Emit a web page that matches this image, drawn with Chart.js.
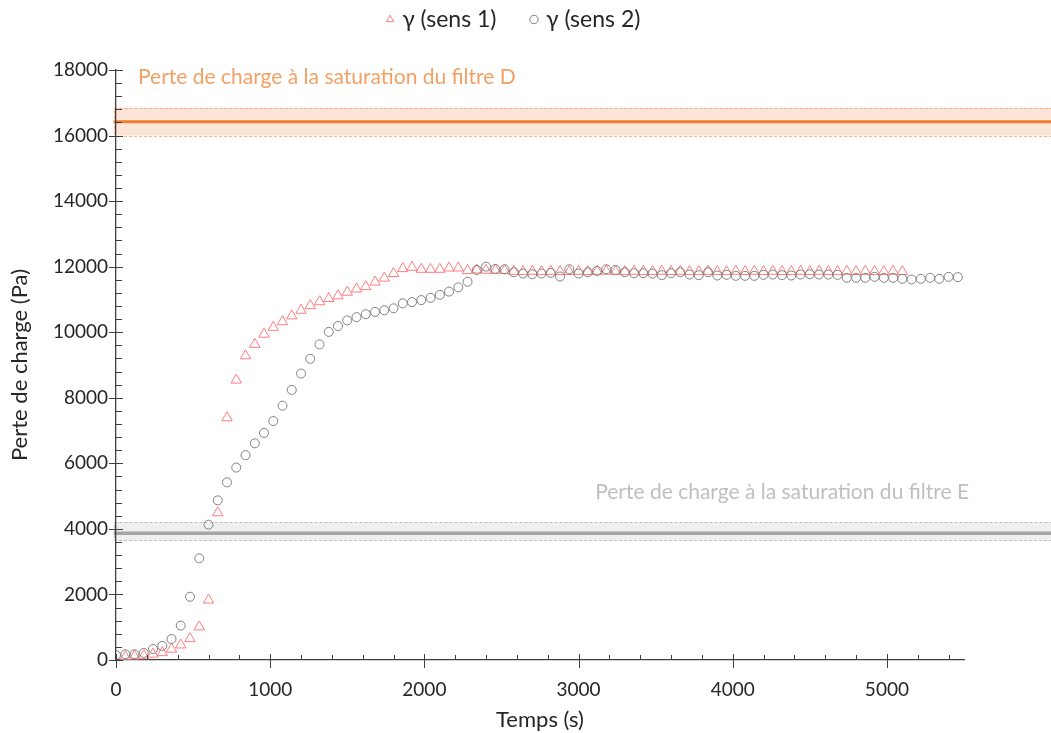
<!DOCTYPE html>
<html>
<head>
<meta charset="utf-8">
<script src="https://cdn.jsdelivr.net/npm/chart.js@4.4.0/dist/chart.umd.min.js"></script>
<style>
  body { margin: 0; background: #fff; }
  #wrap { width: 1051px; height: 733px; }
</style>
</head>
<body>
<div id="wrap"><canvas id="chart" width="1051" height="733"></canvas></div>
<script>
// temps (s) et perte de charge (Pa)
const temps1 = [
  60, 120, 180, 240, 300, 360, 420, 480, 540, 600,
  660, 720, 780, 840, 900, 960, 1020, 1080, 1140, 1200,
  1260, 1320, 1380, 1440, 1500, 1560, 1620, 1680, 1740, 1800,
  1860, 1920, 1980, 2040, 2100, 2160, 2220, 2280, 2340, 2400,
  2460, 2520, 2580, 2640, 2700, 2760, 2820, 2880, 2940, 3000,
  3060, 3120, 3180, 3240, 3300, 3360, 3420, 3480, 3540, 3600,
  3660, 3720, 3780, 3840, 3900, 3960, 4020, 4080, 4140, 4200,
  4260, 4320, 4380, 4440, 4500, 4560, 4620, 4680, 4740, 4800,
  4860, 4920, 4980, 5040, 5100
];
const sens1 = [
  100, 120, 130, 180, 225, 330, 460, 650, 1010, 1830,
  4490, 7390, 8540, 9280, 9630, 9940, 10150, 10320, 10500, 10670,
  10810, 10930, 11030, 11110, 11220, 11320, 11390, 11530, 11650, 11790,
  11940, 11980, 11920, 11920, 11920, 11960, 11960, 11880, 11900, 11890,
  11890, 11880, 11860, 11850, 11860, 11850, 11860, 11850, 11850, 11860,
  11850, 11860, 11860, 11850, 11850, 11860, 11850, 11850, 11860, 11850,
  11860, 11850, 11850, 11860, 11850, 11850, 11860, 11850, 11860, 11850,
  11860, 11850, 11850, 11860, 11850, 11860, 11850, 11850, 11860, 11850,
  11860, 11850, 11850, 11860, 11850
];
const temps2 = [
  0, 60, 120, 180, 240, 300, 360, 420, 480, 540,
  600, 660, 720, 780, 840, 900, 960, 1020, 1080, 1140,
  1200, 1260, 1320, 1380, 1440, 1500, 1560, 1620, 1680, 1740,
  1800, 1860, 1920, 1980, 2040, 2100, 2160, 2220, 2280, 2340,
  2400, 2460, 2520, 2580, 2640, 2700, 2760, 2820, 2880, 2940,
  3000, 3060, 3120, 3180, 3240, 3300, 3360, 3420, 3480, 3540,
  3600, 3660, 3720, 3780, 3840, 3900, 3960, 4020, 4080, 4140,
  4200, 4260, 4320, 4380, 4440, 4500, 4560, 4620, 4680, 4740,
  4800, 4860, 4920, 4980, 5040, 5100, 5160, 5220, 5280, 5340,
  5400, 5460
];
const sens2 = [
  150, 175, 175, 215, 335, 430, 640, 1050, 1930, 3100,
  4130, 4870, 5420, 5870, 6250, 6610, 6930, 7290, 7760, 8240,
  8740, 9190, 9630, 10010, 10190, 10360, 10460, 10550, 10620, 10670,
  10730, 10880, 10920, 10980, 11050, 11140, 11240, 11370, 11540, 11900,
  12000, 11930, 11920, 11830, 11790, 11770, 11790, 11810, 11700, 11920,
  11790, 11830, 11870, 11920, 11900, 11830, 11800, 11800, 11790, 11740,
  11800, 11830, 11760, 11740, 11830, 11730, 11750, 11720, 11720, 11720,
  11750, 11760, 11740, 11730, 11760, 11770, 11760, 11760, 11750, 11660,
  11660, 11660, 11690, 11660, 11660, 11630, 11610, 11630, 11660, 11630,
  11690, 11680
];

const xTickVals = [0, 1000, 2000, 3000, 4000, 5000];
const yTickVals = [0, 2000, 4000, 6000, 8000, 10000, 12000, 14000, 16000, 18000];
const xMax = 5500;
const xMinorStep = 200;
const yMinorStep = 400;

// saturation des filtres : bas / valeur / haut (Pa)
const filtreD = [16000, 16425, 16850];
const filtreE = [3650, 3870, 4200];
const labelD = 'Perte de charge à la saturation du filtre D';
const labelE = 'Perte de charge à la saturation du filtre E';

const FONT = 'Lato, "Open Sans", sans-serif';
const AXIS = '#404040';
const TEXT = '#262626';

const bandPlugin = {
  id: 'bands',
  beforeDraw(chart) {
    const { ctx, scales: { x, y } } = chart;
    const x0 = x.getPixelForValue(-15);
    const x1 = chart.width + 5;
    const band = (vals, fill, edge, line, lw) => {
      const yb = y.getPixelForValue(vals[0]);
      const ym = y.getPixelForValue(vals[1]);
      const yt = y.getPixelForValue(vals[2]);
      ctx.fillStyle = fill;
      ctx.fillRect(x0, yt, x1 - x0, yb - yt);
      ctx.setLineDash([3, 2]);
      ctx.strokeStyle = edge;
      ctx.lineWidth = 1;
      ctx.strokeRect(Math.round(x0) + 0.5, Math.round(yt) + 0.5, x1 - x0, Math.round(yb - yt));
      ctx.setLineDash([]);
      ctx.strokeStyle = line;
      ctx.lineWidth = lw;
      ctx.beginPath();
      ctx.moveTo(x0, ym);
      ctx.lineTo(x1, ym);
      ctx.stroke();
    };
    ctx.save();
    band(filtreD, '#fce4d6', '#f4b183', '#ed7d31', 3);
    band(filtreE, '#efefef', '#bfbfbf', '#a6a6a6', 3.5);

    ctx.font = '21px ' + FONT;
    ctx.textBaseline = 'middle';
    ctx.textAlign = 'left';
    ctx.fillStyle = '#f4a064';
    ctx.fillText(labelD, x.getPixelForValue(143), y.getPixelForValue(17790));
    ctx.fillStyle = '#bfbfbf';
    ctx.fillText(labelE, x.getPixelForValue(3108), y.getPixelForValue(5125));
    ctx.restore();
  }
};

const tickPlugin = {
  id: 'axisTicks',
  afterDraw(chart) {
    const { ctx, chartArea: a, scales: { x, y } } = chart;
    ctx.save();
    ctx.strokeStyle = AXIS;
    ctx.lineWidth = 1;
    ctx.beginPath();
    for (let v = 0; v <= xMax; v += xMinorStep) {
      const px = Math.round(x.getPixelForValue(v)) + 0.5;
      if (v % 1000 === 0) { ctx.moveTo(px, a.bottom - 6); ctx.lineTo(px, a.bottom + 8); }
      else { ctx.moveTo(px, a.bottom - 5); ctx.lineTo(px, a.bottom); }
    }
    for (let v = 0; v <= 18000; v += yMinorStep) {
      const py = Math.round(y.getPixelForValue(v)) + 0.5;
      if (v % 2000 === 0) { ctx.moveTo(a.left - 7, py); ctx.lineTo(a.left + 7, py); }
      else { ctx.moveTo(a.left, py); ctx.lineTo(a.left + 6, py); }
    }
    ctx.stroke();
    ctx.restore();
  }
};

// légende : hauteur fixe, et décalée pour garder un écart large entre les entrées
const legendTweak = {
  id: 'legendTweak',
  beforeInit(chart) {
    const lg = chart.legend;
    const fit = lg.fit;
    const draw = lg.draw;
    lg.fit = function () {
      fit.call(this);
      this.height = 70;
    };
    lg.draw = function () {
      this.ctx.save();
      this.ctx.translate(33, -29);
      draw.call(this);
      this.ctx.restore();
    };
  }
};

new Chart(document.getElementById('chart'), {
  type: 'scatter',
  data: {
    datasets: [
      {
        label: 'γ (sens 1)',
        data: temps1.map((t, i) => ({ x: t, y: sens1[i] })),
        pointStyle: 'triangle',
        pointRadius: 6,
        borderColor: '#ff7c80',
        backgroundColor: 'rgba(0,0,0,0)',
        pointBorderWidth: 1,
        order: 1
      },
      {
        label: 'γ (sens 2)',
        data: temps2.map((t, i) => ({ x: t, y: sens2[i] })),
        pointStyle: 'circle',
        pointRadius: 4.5,
        borderColor: '#808080',
        backgroundColor: 'rgba(0,0,0,0)',
        pointBorderWidth: 1,
        order: 0
      }
    ]
  },
  options: {
    responsive: false,
    animation: false,
    layout: { padding: { left: 0, right: 87, top: 0, bottom: 0 } },
    plugins: {
      tooltip: { enabled: false },
      legend: {
        position: 'top',
        labels: {
          usePointStyle: true,
          boxWidth: 1,
          boxHeight: 6,
          padding: 37,
          color: TEXT,
          font: { family: FONT, size: 23 },
          sort: (a, b) => a.datasetIndex - b.datasetIndex
        }
      }
    },
    scales: {
      x: {
        type: 'linear',
        min: 0,
        max: xMax,
        afterBuildTicks: s => { s.ticks = xTickVals.map(v => ({ value: v })); },
        afterFit: s => { s.height = 73; },
        grid: { display: false, drawTicks: false },
        border: { display: true, color: AXIS, width: 1.3 },
        ticks: { padding: 18, color: TEXT, font: { family: FONT, size: 19 }, maxRotation: 0, callback: v => String(v) },
        title: { display: true, text: 'Temps (s)', color: TEXT, font: { family: FONT, size: 22 }, padding: { top: 0, bottom: 0 } }
      },
      y: {
        type: 'linear',
        min: 0,
        max: 18000,
        afterBuildTicks: s => { s.ticks = yTickVals.map(v => ({ value: v })); },
        afterFit: s => { s.width = 116; },
        grid: { display: false, drawTicks: false },
        border: { display: true, color: AXIS, width: 1.3 },
        ticks: { padding: 8, color: TEXT, font: { family: FONT, size: 19 }, callback: v => String(v) },
        title: { display: true, text: 'Perte de charge (Pa)', color: TEXT, font: { family: FONT, size: 22 }, padding: { top: 7, bottom: 0 } }
      }
    }
  },
  plugins: [bandPlugin, tickPlugin, legendTweak]
});
</script>
</body>
</html>
